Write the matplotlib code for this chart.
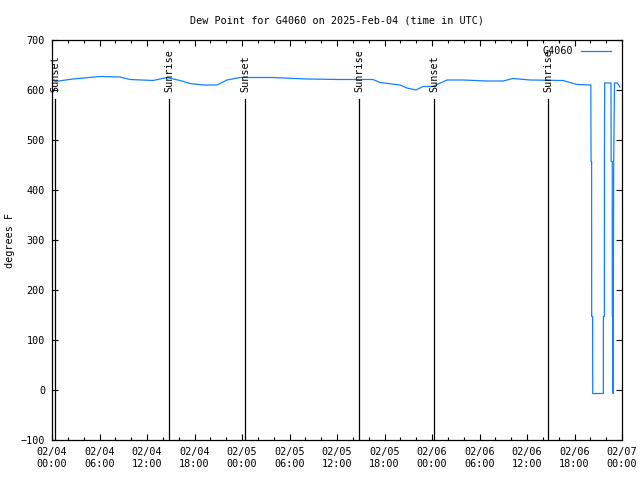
import datetime as dt
import matplotlib
matplotlib.use("Agg")
from matplotlib import pyplot as plt
import matplotlib.dates as mdates

# hours after 2025-02-04 00:00 UTC, and dew point readings
hours = [0.38, 2.65, 6.06, 8.59, 9.85, 12.76, 14.53, 16.17, 17.43, 19.07, 20.84,
         22.10, 23.75, 27.91, 32.21, 36.38, 40.55, 41.43, 43.96, 44.84, 45.98,
         46.86, 48.12, 49.89, 51.91, 54.95, 56.97, 58.23, 60.38, 64.55, 66.31,
         68.06, 68.09, 68.16, 68.17, 68.29, 68.30, 69.64, 69.65, 69.77, 69.78,
         69.81, 70.61, 70.63, 70.77, 70.78, 70.86, 70.88, 70.95, 71.05, 71.43,
         71.74]
dewpoint = [617, 622, 627, 626, 621, 619, 625, 619, 613, 610, 610,
            620, 625, 625, 622, 621, 621, 615, 610, 604, 600,
            607, 607, 620, 620, 618, 618, 623, 620, 619, 611,
            610, 457, 457, 147, 147, -7, -7, 147, 147, 457,
            614, 614, 457, 457, 147, 147, -7, 457, 614, 614,
            606]

sun_hours = [0.38, 14.80, 24.39, 38.80, 48.30, 62.70]
sun_labels = ['Sunset', 'Sunrise', 'Sunset', 'Sunrise', 'Sunset', 'Sunrise']

base = dt.datetime(2025, 2, 4)
times = [base + dt.timedelta(hours=h) for h in hours]
sun_times = [base + dt.timedelta(hours=h) for h in sun_hours]

plt.rcParams['font.family'] = 'DejaVu Sans Mono'
plt.rcParams['font.size'] = 7.3

fig = plt.figure(figsize=(6.4, 4.8), dpi=100)
ax = fig.add_axes([52 / 640, 40 / 480, 570 / 640, 400 / 480])

ax.plot(times, dewpoint, color='#1480ff', linewidth=0.9, label='G4060')

for t, lab in zip(sun_times, sun_labels):
    ax.plot([t, t], [-100, 582], color='black', linewidth=0.9)
    ax.text(t, 595, lab, rotation=90, ha='center', va='bottom', fontsize=7.3)

ax.set_xlim(base, base + dt.timedelta(hours=72))
ax.set_ylim(-100, 700)
ax.set_yticks(range(-100, 701, 100))

ax.xaxis.set_major_locator(mdates.HourLocator(byhour=range(0, 24, 6)))
ax.xaxis.set_minor_locator(mdates.HourLocator(byhour=range(0, 24, 2)))
ax.xaxis.set_major_formatter(mdates.DateFormatter('%m/%d\n%H:%M'))

ax.tick_params(which='both', direction='in', top=True, right=True, width=0.8)
ax.tick_params(which='major', length=4, pad=5)
ax.tick_params(which='minor', length=2.5)
for s in ax.spines.values():
    s.set_linewidth(0.9)

ax.set_title('Dew Point for G4060 on 2025-Feb-04 (time in UTC)', fontsize=7.3, pad=12)
fig.text(10 / 640, 0.5, 'degrees F', rotation=90, ha='center', va='center')

ax.legend(loc='upper right', frameon=False, markerfirst=False, handlelength=3.0,
          borderaxespad=0.2, bbox_to_anchor=(0.992, 1.0))

fig.savefig('out.png', dpi=100)
